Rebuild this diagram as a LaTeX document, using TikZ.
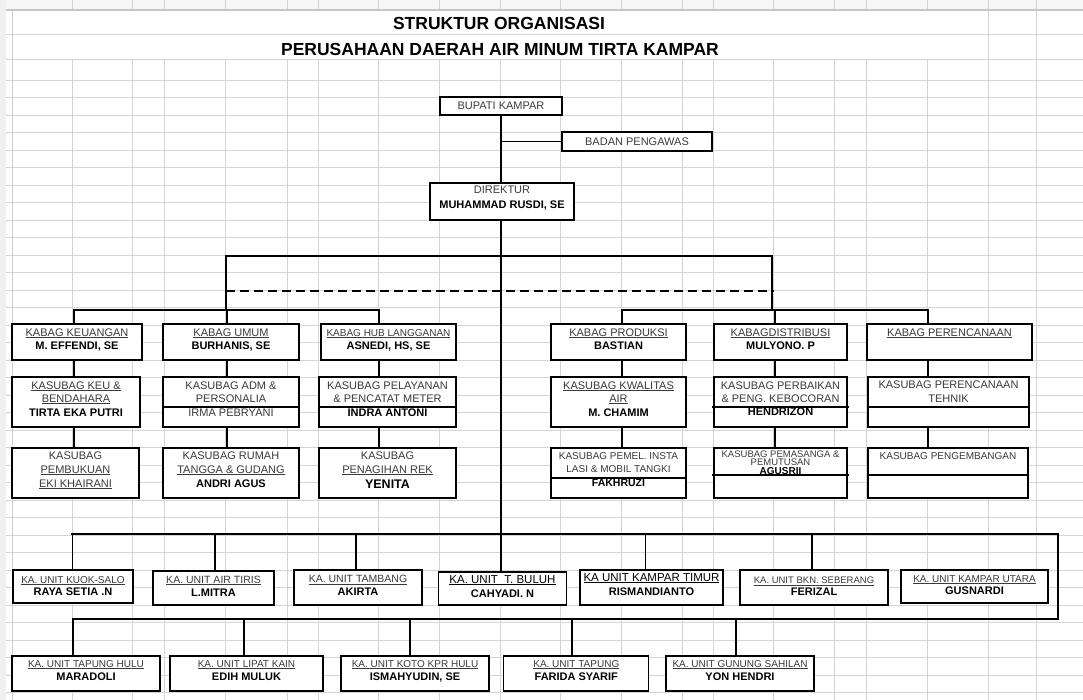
\documentclass[tikz,border=0pt]{standalone}
\usepackage{fontspec}
\setmainfont{Liberation Sans}
\usetikzlibrary{calc}
\definecolor{gridc}{HTML}{D4D4D4}
\definecolor{txtc}{HTML}{3A3A3A}
\newcommand\fs[1]{\fontsize{#1}{#1}\selectfont}
\newcommand\ul[1]{\underline{#1}}
\newcommand\nm[1]{{\bfseries\color{black}#1}}
\newcommand\rg[1]{{\color{txtc}#1}}
\newcommand\tline[5]{\node[anchor=base, inner sep=0pt, font=\fs{#4}] (#1) at ($(#2.north)+(0,#3)$) {#5};}
\begin{document}
\begin{tikzpicture}[x=1pt,y=-1pt,
  box/.style={draw=black, line width=1.2pt, fill=white, inner sep=0pt, outer sep=0pt},
  conn/.style={line width=1.2pt},
  axis/.style={line width=2pt},
  heavy/.style={line width=2.8pt, line join=miter, line cap=rect},
  dashline/.style={line width=2.6pt, dash pattern=on 9pt off 5pt},
  gridl/.style={draw=gridc, line width=0.9pt},
  divl/.style={line width=1.2pt},
]
\useasboundingbox (0,0) rectangle (1083,700);
% spreadsheet grid
\fill[gray!7] (0,0) rectangle (1083,10);
\fill[gray!12] (0,0) rectangle (6,700);
\foreach \yy in {34,59} \draw[gridl] (6,\yy) -- (1083,\yy);
\foreach \yy in {80,97.5,...,700} \draw[gridl] (6,\yy) -- (1083,\yy);
\foreach \xx in {72.5,132.6,164,225,287,318,378.5,439,500,560,621,682,713,773.5,834,866,927} {\draw[gridl] (\xx,59) -- (\xx,700); \draw[gridl] (\xx,0) -- (\xx,10);}
\foreach \xx in {988,1036} \draw[gridl] (\xx,0) -- (\xx,700);
\draw[gray!45, line width=1.2pt] (6,10) -- (1083,10);
\draw[gray!40, line width=1pt] (12,10) -- (12,700);

% titles
\node[inner sep=0pt, font=\bfseries\fs{17.5}] (title1) at (499,23) {STRUKTUR ORGANISASI};
\node[inner sep=0pt, font=\bfseries\fs{17.5}] (title2) at (500,49) {PERUSAHAAN DAERAH AIR MINUM TIRTA KAMPAR};

% boxes
\node[box, minimum width=122pt, minimum height=18pt, font=\fs{11}] (bupati) at (501,106) {\rg{BUPATI KAMPAR}};
\node[box, minimum width=150pt, minimum height=19pt, font=\fs{11}] (badan) at (637,141.5) {\rg{BADAN PENGAWAS}};
\node[box, minimum width=144pt, minimum height=37pt] (direktur) at (502,201.5) {};

\node[box, minimum width=130pt, minimum height=36pt] (kk) at (77,342) {};
\node[box, minimum width=136pt, minimum height=36pt] (ku) at (231,342) {};
\node[box, minimum width=135pt, minimum height=36pt] (kh) at (388.5,342) {};
\node[box, minimum width=135pt, minimum height=36pt] (kp) at (618.5,342) {};
\node[box, minimum width=133pt, minimum height=36pt] (kd) at (780.5,342) {};
\node[box, minimum width=165pt, minimum height=36pt] (kr) at (949.5,342) {};

\node[box, minimum width=128pt, minimum height=50pt] (ks1) at (76,402) {};
\node[box, minimum width=136pt, minimum height=50pt] (ks2) at (231,402) {};
\node[box, minimum width=137pt, minimum height=50pt] (ks3) at (387.5,402) {};
\node[box, minimum width=135pt, minimum height=50pt] (ks4) at (618.5,402) {};
\node[box, minimum width=133pt, minimum height=50pt] (ks5) at (780.5,402) {};
\node[box, minimum width=161pt, minimum height=50pt] (ks6) at (948.5,402) {};

\node[box, minimum width=127pt, minimum height=50pt] (kt1) at (75.5,473) {};
\node[box, minimum width=136pt, minimum height=50pt] (kt2) at (231,473) {};
\node[box, minimum width=137pt, minimum height=50pt] (kt3) at (387.5,473) {};
\node[box, minimum width=135pt, minimum height=50pt] (kt4) at (618.5,473) {};
\node[box, minimum width=133pt, minimum height=50pt] (kt5) at (780.5,473) {};
\node[box, minimum width=160pt, minimum height=50pt] (kt6) at (948,473) {};

\node[box, minimum width=120pt, minimum height=33pt] (u1) at (73,586.5) {};
\node[box, minimum width=121pt, minimum height=34pt] (u2) at (213.5,588) {};
\node[box, minimum width=128pt, minimum height=35pt] (u3) at (358,587.5) {};
\node[box, minimum width=128pt, minimum height=33pt] (u4) at (502.5,588.5) {};
\node[box, minimum width=143pt, minimum height=35pt] (u5) at (651.5,587.5) {};
\node[box, minimum width=148pt, minimum height=35pt] (u6) at (814,587.5) {};
\node[box, minimum width=147pt, minimum height=33pt] (u7) at (974.5,586.5) {};

\node[box, minimum width=148pt, minimum height=35pt] (v1) at (86,673.5) {};
\node[box, minimum width=153pt, minimum height=35pt] (v2) at (246.5,673.5) {};
\node[box, minimum width=148pt, minimum height=35pt] (v3) at (415,673.5) {};
\node[box, minimum width=145pt, minimum height=35pt] (v4) at (576.3,673.5) {};
\node[box, minimum width=148pt, minimum height=35pt] (v5) at (740,673.5) {};

% dividers inside boxes
\draw[divl] ($(ks2.west)+(0,5)$) -- ($(ks2.east)+(0,5)$);
\draw[divl] ($(ks3.west)+(0,5)$) -- ($(ks3.east)+(0,5)$);
\draw[divl] ($(ks5.west)+(-2,5)$) -- ($(ks5.east)+(2,5)$);
\draw[divl] ($(ks6.west)+(0,5)$) -- ($(ks6.east)+(0,5)$);
\draw[divl] ($(kt4.west)+(0,5)$) -- ($(kt4.east)+(0,5)$);
\draw[divl] ($(kt5.west)+(-2,2)$) -- ($(kt5.east)+(2,2)$);
\draw[divl] ($(kt6.west)+(0,2)$) -- ($(kt6.east)+(1,2)$);

% connector coordinates
\coordinate (lbus) at (0,310);
\coordinate (thL) at (226,256);
\coordinate (thR) at (772,256);
\coordinate (dsh) at (0,291);
\coordinate (c1) at (74,0);
\coordinate (c2) at (227,0);
\coordinate (c3) at (379,0);
\coordinate (c4) at (622,0);
\coordinate (c5) at (775,0);
\coordinate (c6) at (928,0);
\coordinate (ub) at (0,534);
\coordinate (lb) at (0,619);
\coordinate (rx) at (1058,0);
\coordinate (e1) at (72.5,0);
\coordinate (e2) at (215,0);
\coordinate (e3) at (356,0);
\coordinate (e5) at (645.5,0);
\coordinate (e6) at (812,0);
\coordinate (f1) at (73,0);
\coordinate (f2) at (244,0);
\coordinate (f3) at (410,0);
\coordinate (f4) at (572,0);
\coordinate (f5) at (736,0);

% connectors
\draw[axis] (bupati.south) -- (bupati.south |- direktur.north);
\draw[conn] (bupati.south |- badan.west) -- (badan.west);
\draw[axis] (bupati.south |- direktur.south) -- (bupati.south |- u4.north);
\draw[heavy] (thL |- lbus) -- (thL) -- (thR) -- (thR |- lbus);
\draw[dashline] (thL |- dsh) -- ($(thR |- dsh)+(2,0)$);
\draw[conn] (c1 |- kk.north) -- (c1 |- lbus) -- (c3 |- lbus) -- (c3 |- kh.north);
\draw[conn] (c2 |- lbus) -- (c2 |- ku.north);
\draw[conn] (c4 |- kp.north) -- (c4 |- lbus) -- (c6 |- lbus) -- (c6 |- kr.north);
\draw[conn] (c5 |- lbus) -- (c5 |- kd.north);
\foreach \c/\a/\b/\d in {c1/kk/ks1/kt1, c2/ku/ks2/kt2, c3/kh/ks3/kt3, c4/kp/ks4/kt4, c5/kd/ks5/kt5, c6/kr/ks6/kt6} {
  \draw[conn] (\c |- \a.south) -- (\c |- \b.north);
  \draw[conn] (\c |- \b.south) -- (\c |- \d.north);
}
\draw[heavy] (e1 |- ub) -- (rx |- ub) -- (rx |- lb) -- (f1 |- lb);
\foreach \e/\u in {e1/u1, e2/u2, e3/u3, e5/u5, e6/u6} \draw[conn] (\e |- ub) -- (\e |- \u.north);
\foreach \f/\v in {f1/v1, f2/v2, f3/v3, f4/v4, f5/v5} \draw[conn] (\f |- lb) -- (\f |- \v.north);

% texts
\tline{dirA}{direktur}{11}{11}{\rg{DIREKTUR}}
\tline{dirB}{direktur}{26}{11}{\nm{MUHAMMAD RUSDI, SE}}

\tline{kkA}{kk}{12}{11}{\rg{\ul{KABAG KEUANGAN}}}
\tline{kkB}{kk}{25}{11}{\nm{M. EFFENDI, SE}}
\tline{kuA}{ku}{12}{11}{\rg{\ul{KABAG UMUM}}}
\tline{kuB}{ku}{25}{11}{\nm{BURHANIS, SE}}
\tline{khA}{kh}{12}{10}{\rg{\ul{KABAG HUB LANGGANAN}}}
\tline{khB}{kh}{25}{11}{\nm{ASNEDI, HS, SE}}
\tline{kpA}{kp}{12}{11}{\rg{\ul{KABAG PRODUKSI}}}
\tline{kpB}{kp}{25}{11}{\nm{BASTIAN}}
\tline{kdA}{kd}{12}{11}{\rg{\ul{KABAGDISTRIBUSI}}}
\tline{kdB}{kd}{25}{11}{\nm{MULYONO. P}}
\tline{krA}{kr}{12}{11}{\rg{\ul{KABAG PERENCANAAN}}}

\tline{ks1A}{ks1}{12}{11}{\rg{\ul{KASUBAG KEU \&}}}
\tline{ks1B}{ks1}{25}{11}{\rg{\ul{BENDAHARA}}}
\tline{ks1C}{ks1}{39}{11}{\nm{TIRTA EKA PUTRI}}
\tline{ks2A}{ks2}{12}{11}{\rg{KASUBAG ADM \&}}
\tline{ks2B}{ks2}{25}{11}{\rg{PERSONALIA}}
\tline{ks2C}{ks2}{39}{11}{\rg{IRMA PEBRYANI}}
\tline{ks3A}{ks3}{12}{11}{\rg{KASUBAG PELAYANAN}}
\tline{ks3B}{ks3}{25}{11}{\rg{\& PENCATAT METER}}
\tline{ks3C}{ks3}{39}{11}{\nm{INDRA ANTONI}}
\tline{ks4A}{ks4}{12}{11}{\rg{\ul{KASUBAG KWALITAS}}}
\tline{ks4B}{ks4}{25}{11}{\rg{\ul{AIR}}}
\tline{ks4C}{ks4}{39}{11}{\nm{M. CHAMIM}}
\tline{ks5A}{ks5}{12}{11}{\rg{KASUBAG PERBAIKAN}}
\tline{ks5B}{ks5}{25}{11}{\rg{\& PENG. KEBOCORAN}}
\tline{ks5C}{ks5}{38.5}{11}{\nm{HENDRIZON}}
\tline{ks6A}{ks6}{11}{11}{\rg{KASUBAG PERENCANAAN}}
\tline{ks6B}{ks6}{25}{11}{\rg{TEHNIK}}

\tline{kt1A}{kt1}{11}{11}{\rg{KASUBAG}}
\tline{kt1B}{kt1}{25}{11}{\rg{\ul{PEMBUKUAN}}}
\tline{kt1C}{kt1}{39}{11}{\rg{\ul{EKI KHAIRANI}}}
\tline{kt2A}{kt2}{11}{11}{\rg{KASUBAG RUMAH}}
\tline{kt2B}{kt2}{25}{11}{\rg{\ul{TANGGA \& GUDANG}}}
\tline{kt2C}{kt2}{39}{11}{\nm{ANDRI AGUS}}
\tline{kt3A}{kt3}{11}{11}{\rg{KASUBAG}}
\tline{kt3B}{kt3}{25}{11}{\rg{\ul{PENAGIHAN REK}}}
\tline{kt3C}{kt3}{40}{12.5}{\nm{YENITA}}
\tline{kt4A}{kt4}{11}{10}{\rg{KASUBAG PEMEL. INSTA}}
\tline{kt4B}{kt4}{24}{10}{\rg{LASI \& MOBIL TANGKI}}
\tline{kt4C}{kt4}{38}{10.5}{\nm{FAKHRUZI}}
\tline{kt5A}{kt5}{9}{9.5}{\rg{KASUBAG PEMASANGA \&}}
\tline{kt5B}{kt5}{17}{9.5}{\rg{PEMUTUSAN}}
\tline{kt5C}{kt5}{26}{10}{\nm{AGUSRII}}
\tline{kt6A}{kt6}{11}{10}{\rg{KASUBAG PENGEMBANGAN}}

\tline{u1A}{u1}{13}{10}{\rg{\ul{KA. UNIT KUOK-SALO}}}
\tline{u1B}{u1}{25.5}{11}{\nm{RAYA SETIA .N}}
\tline{u2A}{u2}{12}{10.5}{\rg{\ul{KA. UNIT AIR TIRIS}}}
\tline{u2B}{u2}{25}{11}{\nm{L.MITRA}}
\tline{u3A}{u3}{12.5}{10.5}{\rg{\ul{KA. UNIT TAMBANG}}}
\tline{u3B}{u3}{25.5}{11}{\nm{AKIRTA}}
\tline{u4A}{u4}{11}{11.5}{\ul{KA. UNIT\ \ T. BULUH}}
\tline{u4B}{u4}{25}{11}{\nm{CAHYADI. N}}
\tline{u5A}{u5}{11}{11.5}{\ul{KA UNIT KAMPAR TIMUR}}
\tline{u5B}{u5}{25}{11}{\nm{RISMANDIANTO}}
\tline{u6A}{u6}{13.5}{9.5}{\rg{\ul{KA. UNIT BKN. SEBERANG}}}
\tline{u6B}{u6}{25.5}{11}{\nm{FERIZAL}}
\tline{u7A}{u7}{12}{10}{\rg{\ul{KA. UNIT KAMPAR UTARA}}}
\tline{u7B}{u7}{24}{11}{\nm{GUSNARDI}}

\tline{v1A}{v1}{11}{10}{\rg{\ul{KA. UNIT TAPUNG HULU}}}
\tline{v1B}{v1}{24}{11}{\nm{MARADOLI}}
\tline{v2A}{v2}{11}{10}{\rg{\ul{KA. UNIT LIPAT KAIN}}}
\tline{v2B}{v2}{24}{11}{\nm{EDIH MULUK}}
\tline{v3A}{v3}{11}{10}{\rg{\ul{KA. UNIT KOTO KPR HULU}}}
\tline{v3B}{v3}{24}{11}{\nm{ISMAHYUDIN, SE}}
\tline{v4A}{v4}{11}{10}{\rg{\ul{KA. UNIT TAPUNG}}}
\tline{v4B}{v4}{24}{11}{\nm{FARIDA SYARIF}}
\tline{v5A}{v5}{11}{10}{\rg{\ul{KA. UNIT GUNUNG SAHILAN}}}
\tline{v5B}{v5}{24}{11}{\nm{YON HENDRI}}
\end{tikzpicture}
\end{document}
